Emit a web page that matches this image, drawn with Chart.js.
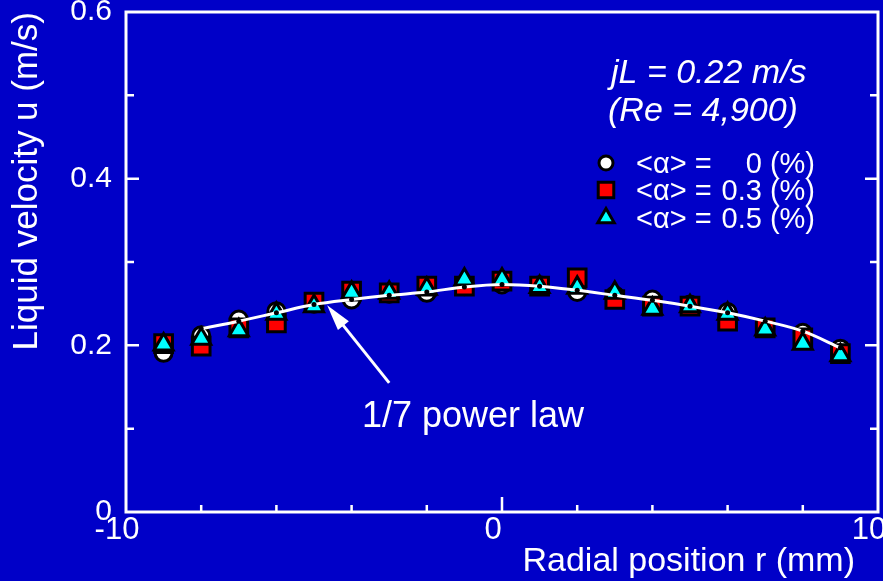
<!DOCTYPE html>
<html>
<head>
<meta charset="utf-8">
<script src="https://cdn.jsdelivr.net/npm/chart.js@4.4.1/dist/chart.umd.min.js"></script>
<style>
  html, body { margin: 0; padding: 0; background: #0000c8; }
  canvas { display: block; }
</style>
</head>
<body>
<canvas id="chart" width="883" height="581"></canvas>
<script>
// measured points, r in mm, u in m/s
const radialPos = [-9, -8, -7, -6, -5, -4, -3, -2, -1, 0, 1, 2, 3, 4, 5, 6, 7, 8, 9];
const uAlpha0  = [0.191, 0.212, 0.231, 0.241, 0.250, 0.255, 0.262, 0.263, 0.271, 0.273, 0.272, 0.264, 0.260, 0.255, 0.249, 0.240, 0.221, 0.215, 0.196];
const uAlpha03 = [0.202, 0.199, 0.221, 0.227, 0.252, 0.265, 0.263, 0.271, 0.271, 0.277, 0.271, 0.281, 0.255, 0.247, 0.247, 0.229, 0.221, 0.209, 0.190];
const uAlpha05 = [0.201, 0.208, 0.218, 0.238, 0.247, 0.263, 0.263, 0.268, 0.279, 0.279, 0.270, 0.269, 0.263, 0.244, 0.247, 0.238, 0.219, 0.202, 0.188];

// 1/7 power law curve
const powerLawPos = [-8, -7, -6, -5, -4, -3, -2, -1, 0, 1, 2, 3, 4, 5, 6, 7, 8, 9];
const powerLawU   = [0.220, 0.229, 0.239, 0.249, 0.255, 0.260, 0.264, 0.270, 0.273, 0.271, 0.266, 0.260, 0.254, 0.247, 0.239, 0.229, 0.217, 0.197];

const legendValues = ['0', '0.3', '0.5'];
const yTickLabels = [0, 0.2, 0.4, 0.6];
const xTickLabels = [-10, 0, 10];

const FONT = '"Liberation Sans", Arial, Helvetica, sans-serif';
const pairs = (xs, ys) => xs.map((x, i) => ({ x: x, y: ys[i] }));

const markerStyles = [
  { pointStyle: 'circle', radius: 8.5, fill: '#ffffff' },
  { pointStyle: 'rect', radius: 12.5, fill: '#ff0000' },
  { pointStyle: 'triangle', radius: 11, fill: '#00ffff' }
];

function drawMarker(ctx, style, x, y) {
  const r = style.radius;
  ctx.beginPath();
  if (style.pointStyle === 'circle') {
    ctx.arc(x, y, r, 0, Math.PI * 2);
  } else if (style.pointStyle === 'rect') {
    const s = r * Math.SQRT1_2;
    ctx.rect(x - s, y - s, 2 * s, 2 * s);
  } else {
    for (let k = 0; k < 3; k++) {
      const a = k * 2 * Math.PI / 3;
      const px = x + Math.sin(a) * r, py = y - Math.cos(a) * r;
      if (k === 0) ctx.moveTo(px, py); else ctx.lineTo(px, py);
    }
    ctx.closePath();
  }
  ctx.fillStyle = style.fill;
  ctx.fill();
  ctx.lineWidth = 3;
  ctx.strokeStyle = '#000';
  ctx.stroke();
}

// frame, inward ticks, annotation and legend
const decorations = {
  id: 'decorations',
  afterDraw(chart) {
    const { ctx, chartArea: a, scales: { x, y } } = chart;
    ctx.save();
    ctx.strokeStyle = '#fff';
    ctx.lineWidth = 3;
    ctx.strokeRect(a.left, a.top, a.right - a.left, a.bottom - a.top);

    ctx.lineWidth = 2.5;
    ctx.beginPath();
    for (let v = 1; v < 6; v++) {
      const py = y.getPixelForValue(v / 10);
      const len = v % 2 === 0 ? 13 : 8;
      ctx.moveTo(a.left, py); ctx.lineTo(a.left + len, py);
      ctx.moveTo(a.right, py); ctx.lineTo(a.right - len, py);
    }
    for (let v = -8; v <= 8; v += 2) {
      const px = x.getPixelForValue(v);
      const len = v === 0 ? 15 : 7;
      ctx.moveTo(px, a.bottom); ctx.lineTo(px, a.bottom - len);
    }
    ctx.stroke();

    // arrow to the curve
    const tipX = x.getPixelForValue(-4.65), tipY = y.getPixelForValue(0.248);
    const tailX = x.getPixelForValue(-3.0), tailY = y.getPixelForValue(0.155);
    const ang = Math.atan2(tipY - tailY, tipX - tailX);
    ctx.lineWidth = 3;
    ctx.beginPath();
    ctx.moveTo(tailX, tailY);
    ctx.lineTo(tipX - Math.cos(ang) * 18, tipY - Math.sin(ang) * 18);
    ctx.stroke();
    ctx.fillStyle = '#fff';
    ctx.beginPath();
    ctx.moveTo(tipX, tipY);
    ctx.lineTo(tipX - Math.cos(ang) * 26 + Math.sin(ang) * 7, tipY - Math.sin(ang) * 26 - Math.cos(ang) * 7);
    ctx.lineTo(tipX - Math.cos(ang) * 26 - Math.sin(ang) * 7, tipY - Math.sin(ang) * 26 + Math.cos(ang) * 7);
    ctx.closePath();
    ctx.fill();

    ctx.fillStyle = '#fff';
    ctx.textBaseline = 'alphabetic';
    ctx.textAlign = 'left';
    ctx.font = '36px ' + FONT;
    ctx.fillText('1/7 power law', 362, 427);

    ctx.font = 'italic 34px ' + FONT;
    ctx.fillText('jL = 0.22 m/s', 611, 83);
    ctx.fillText('(Re = 4,900)', 608, 121);

    // legend
    const rowY = [163, 190, 218];
    legendValues.forEach((val, i) => {
      drawMarker(ctx, Object.assign({}, markerStyles[i], { radius: markerStyles[i].radius - 1.5 }), 606, rowY[i]);
      ctx.fillStyle = '#fff';
      ctx.font = '29px ' + FONT;
      ctx.textAlign = 'left';
      ctx.fillText('<\u03b1> =', 636, rowY[i] + 10);
      ctx.textAlign = 'right';
      ctx.fillText(val + ' (%)', 815, rowY[i] + 10);
    });

    // x axis title
    ctx.font = '34px ' + FONT;
    ctx.textAlign = 'right';
    ctx.fillText('Radial position r (mm)', 855, 571);
    ctx.restore();
  }
};

const markerDataset = (label, ys, style) => ({
  label: label,
  data: pairs(radialPos, ys),
  pointStyle: style.pointStyle,
  pointRadius: style.radius,
  pointBackgroundColor: style.fill,
  pointBorderColor: '#000',
  pointBorderWidth: 3,
  showLine: false
});

new Chart(document.getElementById('chart'), {
  type: 'scatter',
  data: {
    datasets: [
      {
        label: '1/7 power law',
        data: pairs(powerLawPos, powerLawU),
        showLine: true,
        borderColor: '#fff',
        borderWidth: 3,
        cubicInterpolationMode: 'monotone',
        pointRadius: 2.5,
        pointBackgroundColor: '#000',
        pointBorderWidth: 0
      },
      markerDataset('<\u03b1> = 0.5 (%)', uAlpha05, markerStyles[2]),
      markerDataset('<\u03b1> = 0.3 (%)', uAlpha03, markerStyles[1]),
      markerDataset('<\u03b1> = 0 (%)', uAlpha0, markerStyles[0])
    ]
  },
  options: {
    responsive: false,
    animation: false,
    layout: { autoPadding: false, padding: { top: 12, right: 5, bottom: 0, left: 0 } },
    plugins: { legend: { display: false }, tooltip: { enabled: false } },
    scales: {
      x: {
        type: 'linear',
        min: -10,
        max: 10,
        grid: { display: false, drawTicks: false },
        border: { display: false },
        afterBuildTicks: s => { s.ticks = xTickLabels.map(v => ({ value: v })); },
        afterFit: s => { s.height = 69; s.paddingLeft = 0; s.paddingRight = 0; },
        ticks: {
          color: '#fff',
          font: { family: FONT, size: 31 },
          padding: 0,
          labelOffset: -9,
          maxRotation: 0,
          autoSkip: false
        }
      },
      y: {
        min: 0,
        max: 0.6,
        grid: { display: false, drawTicks: false },
        border: { display: false },
        afterBuildTicks: s => { s.ticks = yTickLabels.map(v => ({ value: v })); },
        afterFit: s => { s.width = 126; s.paddingTop = 0; s.paddingBottom = 0; },
        ticks: {
          color: '#fff',
          font: { family: FONT, size: 30 },
          padding: 14,
          callback: v => String(v)
        },
        title: {
          display: true,
          text: 'Liquid velocity u (m/s)',
          color: '#fff',
          align: 'end',
          font: { family: FONT, size: 35 },
          padding: { top: 6, bottom: 0 }
        }
      }
    }
  },
  plugins: [decorations]
});
</script>
</body>
</html>
